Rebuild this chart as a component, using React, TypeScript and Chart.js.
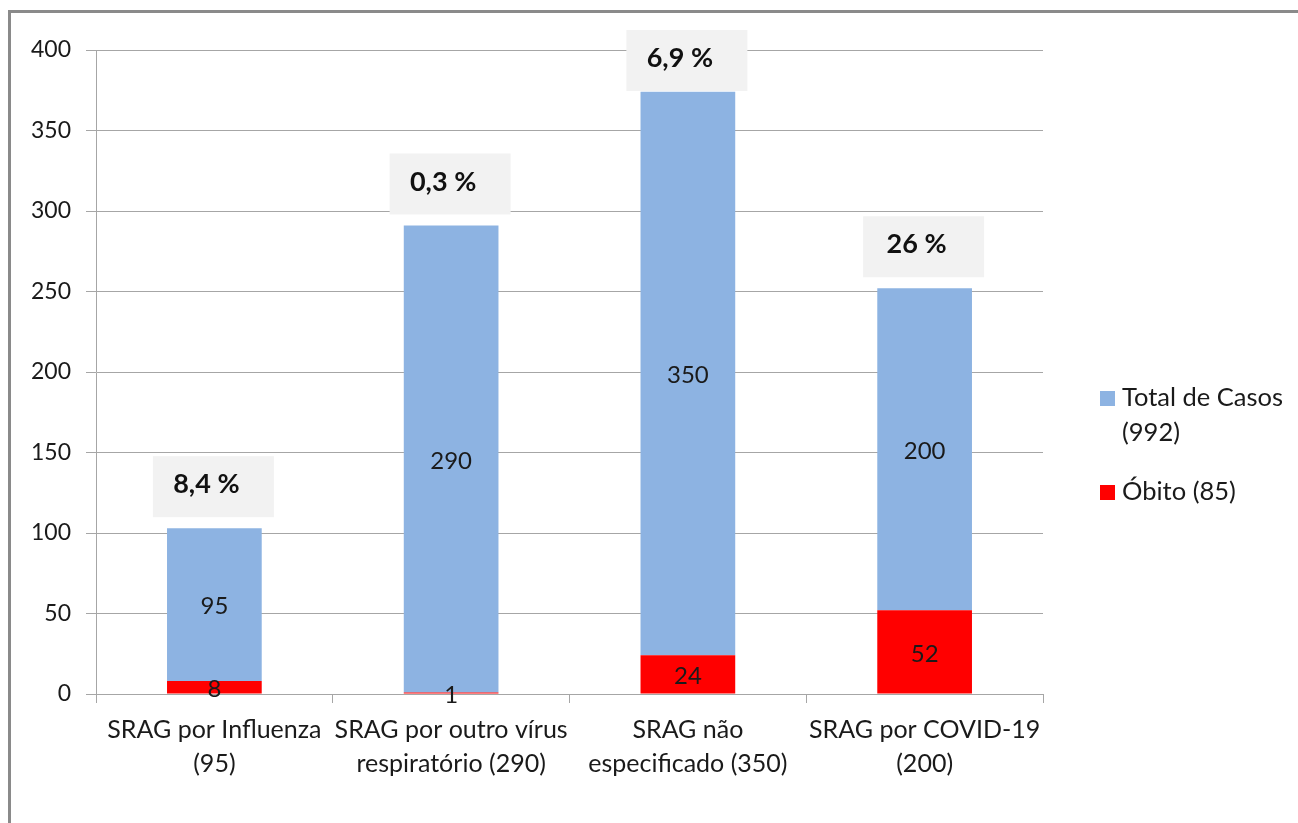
import React, { useEffect, useRef } from "react";
import { Chart, registerables } from "chart.js";

Chart.register(...registerables);

const categories: string[][] = [
  ["SRAG por Influenza", "(95)"],
  ["SRAG por outro vírus", "respiratório (290)"],
  ["SRAG não", "especificado (350)"],
  ["SRAG por COVID-19", "(200)"],
];
const obitoValues = [8, 1, 24, 52];
const totalValues = [95, 290, 350, 200];
const percentLabels = ["8,4 %", "0,3 %", "6,9 %", "26 %"];
const legendLabels = [["Total de Casos", "(992)"], ["Óbito (85)"]];
const yTicks = [0, 50, 100, 150, 200, 250, 300, 350, 400];

const FONT = "Lato, 'Open Sans', sans-serif";
const BLUE = "#8DB3E2";
const RED = "#FF0000";
const GRID = "#A6A6A6";

const labelsPlugin = {
  id: "customLabels",
  afterDatasetsDraw(chart: any) {
    const ctx = chart.ctx;
    ctx.save();
    // value labels
    ctx.font = `24px ${FONT}`;
    ctx.fillStyle = "#1a1a1a";
    ctx.textAlign = "center";
    ctx.textBaseline = "middle";
    chart.data.datasets.forEach((ds: any, di: number) => {
      const meta = chart.getDatasetMeta(di);
      meta.data.forEach((el: any, i: number) => {
        const v = ds.data[i];
        const yc = (el.y + el.base) / 2;
        ctx.fillText(String(v), el.x, yc + 2);
      });
    });
    // percent boxes
    const topMeta = chart.getDatasetMeta(1);
    topMeta.data.forEach((el: any, i: number) => {
      const w = 121;
      const h = 61;
      const top = Math.max(el.y - 11 - h, 30);
      ctx.fillStyle = "#F2F2F2";
      ctx.fillRect(el.x - w / 2 - 1, top, w, h);
      ctx.fillStyle = "#111";
      ctx.font = `bold 27px ${FONT}`;
      ctx.fillText(percentLabels[i], el.x - 8, top + h / 2 - 2);
    });
    ctx.restore();
  },
  afterDraw(chart: any) {
    const ctx = chart.ctx;
    ctx.save();
    ctx.font = `25.5px ${FONT}`;
    ctx.textAlign = "left";
    ctx.textBaseline = "middle";
    const order = [1, 0];
    const starts = [398, 492];
    order.forEach((di, k) => {
      const ds = chart.data.datasets[di];
      const y0 = starts[k];
      ctx.fillStyle = ds.backgroundColor;
      ctx.fillRect(1100, y0 - 7, 15, 15);
      ctx.fillStyle = "#1a1a1a";
      legendLabels[k].forEach((line: string, li: number) => {
        ctx.fillText(line, 1122, y0 + li * 35);
      });
    });
    ctx.restore();
  },
};

export default function App() {
  const ref = useRef<HTMLCanvasElement | null>(null);
  useEffect(() => {
    if (!ref.current) return;
    const chart = new Chart(ref.current, {
      type: "bar",
      data: {
        labels: categories,
        datasets: [
          {
            label: legendLabels[1].join(" "),
            data: obitoValues,
            backgroundColor: RED,
            categoryPercentage: 1,
            barPercentage: 0.4,
          },
          {
            label: legendLabels[0].join(" "),
            data: totalValues,
            backgroundColor: BLUE,
            categoryPercentage: 1,
            barPercentage: 0.4,
          },
        ],
      },
      options: {
        animation: false,
        responsive: false,
        maintainAspectRatio: false,
        layout: { padding: { left: 0, right: 255, top: 50, bottom: 0 } },
        plugins: {
          legend: { display: false },
          tooltip: { enabled: false },
        },
        scales: {
          x: {
            stacked: true,
            afterFit: (s: any) => {
              s.height = 129;
            },
            grid: {
              offset: true,
              drawOnChartArea: false,
              drawTicks: true,
              tickLength: 9,
              color: GRID,
            },
            border: { display: true, color: GRID, width: 1 },
            ticks: {
              color: "#1a1a1a",
              font: { family: FONT, size: 25, lineHeight: 1.36 },
              padding: 10,
              maxRotation: 0,
              autoSkip: false,
            },
          },
          y: {
            stacked: true,
            min: 0,
            max: 400,
            afterFit: (s: any) => {
              s.width = 96;
            },
            afterBuildTicks: (s: any) => {
              s.ticks = yTicks.map((v) => ({ value: v }));
            },
            grid: {
              color: GRID,
              drawTicks: true,
              tickLength: 10,
            },
            border: { display: true, color: GRID, width: 1 },
            ticks: {
              color: "#1a1a1a",
              font: { family: FONT, size: 23 },
              padding: 15,
            },
          },
        },
      },
      plugins: [labelsPlugin],
    });
    return () => chart.destroy();
  }, []);
  return (
    <div
      style={{
        position: "fixed",
        left: 0,
        top: 0,
        width: 1298,
        height: 823,
        overflow: "hidden",
        background: "#fff",
      }}
    >
      <div
        style={{
          position: "absolute",
          left: 8,
          top: 10,
          width: 1400,
          height: 900,
          borderTop: "3px solid #8A8A8A",
          borderLeft: "3px solid #8A8A8A",
        }}
      />
      <canvas
        ref={ref}
        width={1298}
        height={823}
        style={{ position: "absolute", left: 0, top: 0 }}
      />
    </div>
  );
}
